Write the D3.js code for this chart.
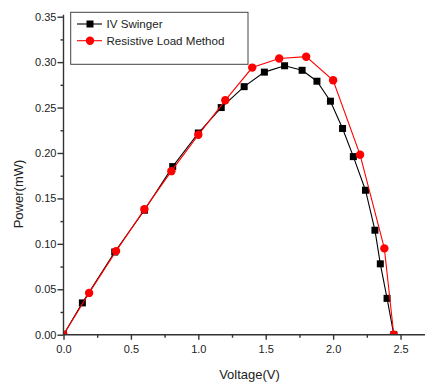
<html>
<head>
<script src="https://cdn.jsdelivr.net/npm/d3@7"></script>
<style>
  body { margin: 0; background: #fff; }
  text { font-family: "Liberation Sans", Arial, sans-serif; }
</style>
</head>
<body>
<div id="chart"></div>
<script>
// IV Swinger measurements
const ivVoltage = [0, 0.14, 0.38, 0.60, 0.81, 1.00, 1.17, 1.34, 1.49, 1.64, 1.77, 1.88, 1.98, 2.07, 2.15, 2.24, 2.31, 2.35, 2.40, 2.45];
const ivPower   = [0, 0.035, 0.091, 0.137, 0.185, 0.222, 0.250, 0.273, 0.289, 0.296, 0.291, 0.279, 0.257, 0.227, 0.196, 0.159, 0.115, 0.078, 0.040, 0];
// resistive load method
const rlVoltage = [0, 0.19, 0.39, 0.60, 0.80, 1.00, 1.20, 1.40, 1.60, 1.80, 2.00, 2.20, 2.38, 2.45];
const rlPower   = [0, 0.046, 0.092, 0.138, 0.180, 0.220, 0.258, 0.294, 0.304, 0.306, 0.280, 0.198, 0.095, 0];

const xMajor = [0, 0.5, 1.0, 1.5, 2.0, 2.5];
const xMinor = [0.25, 0.75, 1.25, 1.75, 2.25];
const yMajor = [0, 0.05, 0.10, 0.15, 0.20, 0.25, 0.30, 0.35];
const yMinor = [0.025, 0.075, 0.125, 0.175, 0.225, 0.275, 0.325];

const width = 425, height = 387;
const x = d3.scaleLinear().domain([0, 2.7]).range([63.5, 427.5]);
const y = d3.scaleLinear().domain([0, 0.35]).range([334.7, 16.7]);

const svg = d3.select("#chart").append("svg")
    .attr("width", width).attr("height", height);

svg.append("clipPath").attr("id", "plot")
  .append("rect")
    .attr("x", x(0)).attr("y", y(0.35) - 6)
    .attr("width", width - x(0)).attr("height", y(0) - y(0.35) + 6);

const iv = ivVoltage.map((v, i) => [v, ivPower[i]]);
const rl = rlVoltage.map((v, i) => [v, rlPower[i]]);
const line = d3.line().x(d => x(d[0])).y(d => y(d[1]));

const g = svg.append("g").attr("clip-path", "url(#plot)");

g.append("path").datum(iv)
    .attr("d", line).attr("fill", "none").attr("stroke", "#000").attr("stroke-width", 1.1);
g.selectAll("rect.iv").data(iv).join("rect")
    .attr("class", "iv")
    .attr("x", d => x(d[0]) - 3.5).attr("y", d => y(d[1]) - 3.5)
    .attr("width", 7).attr("height", 7).attr("fill", "#000");

g.append("path").datum(rl)
    .attr("d", line).attr("fill", "none").attr("stroke", "#ff0000").attr("stroke-width", 1.1);
g.selectAll("circle.rl").data(rl).join("circle")
    .attr("class", "rl")
    .attr("cx", d => x(d[0])).attr("cy", d => y(d[1]))
    .attr("r", 4.2).attr("fill", "#ff0000");

// axes
const axisColor = "#333";
const xAxis = svg.append("g").attr("transform", `translate(0,${y(0)})`);
xAxis.call(d3.axisBottom(x).tickValues(xMajor).tickSize(5).tickSizeOuter(0).tickFormat(d3.format(".1f")));
xAxis.append("g").call(d3.axisBottom(x).tickValues(xMinor).tickSize(3).tickFormat(""))
    .select(".domain").remove();
xAxis.select(".domain").attr("d", `M${x(0)},0H${width}`);

const yAxis = svg.append("g").attr("transform", `translate(${x(0)},0)`);
yAxis.call(d3.axisLeft(y).tickValues(yMajor).tickSize(6).tickSizeOuter(0).tickFormat(d3.format(".2f")));
yAxis.append("g").call(d3.axisLeft(y).tickValues(yMinor).tickSize(3).tickFormat(""))
    .select(".domain").remove();
yAxis.select(".domain").attr("d", `M0,${y(0.35) - 2}V${y(0)}`);

svg.selectAll(".domain, .tick line").attr("stroke", axisColor).attr("stroke-width", 1.4);
svg.selectAll(".tick text").attr("fill", "#222").attr("font-size", 11)
    .attr("font-family", "Liberation Sans, Arial, sans-serif");
xAxis.selectAll(".tick text").attr("dy", "0.95em");
yAxis.selectAll(".tick text").attr("x", -7);

svg.append("text")
    .attr("x", 249.5).attr("y", 379)
    .attr("text-anchor", "middle").attr("font-size", 13).attr("fill", "#222")
    .text("Voltage(V)");

svg.append("text")
    .attr("transform", "translate(23,194) rotate(-90)")
    .attr("text-anchor", "middle").attr("font-size", 13).attr("fill", "#222")
    .text("Power(mW)");

// legend
const legend = svg.append("g");
legend.append("rect")
    .attr("x", 70.7).attr("y", 12.3).attr("width", 177.3).attr("height", 52)
    .attr("fill", "#fff").attr("stroke", "#444").attr("stroke-width", 1);

const entries = [
  { name: "IV Swinger", color: "#000", mark: "square", yy: 24 },
  { name: "Resistive Load Method", color: "#ff0000", mark: "circle", yy: 40.7 }
];
entries.forEach(e => {
  legend.append("line")
      .attr("x1", 77).attr("x2", 102).attr("y1", e.yy).attr("y2", e.yy)
      .attr("stroke", e.color).attr("stroke-width", 1.1);
  if (e.mark === "square") {
    legend.append("rect").attr("x", 86.5).attr("y", e.yy - 3.5)
        .attr("width", 7).attr("height", 7).attr("fill", e.color);
  } else {
    legend.append("circle").attr("cx", 90).attr("cy", e.yy).attr("r", 4.2).attr("fill", e.color);
  }
  legend.append("text")
      .attr("x", 106.5).attr("y", e.yy).attr("dy", "0.36em")
      .attr("font-size", 11.6).attr("fill", "#222")
      .text(e.name);
});
</script>
</body>
</html>
